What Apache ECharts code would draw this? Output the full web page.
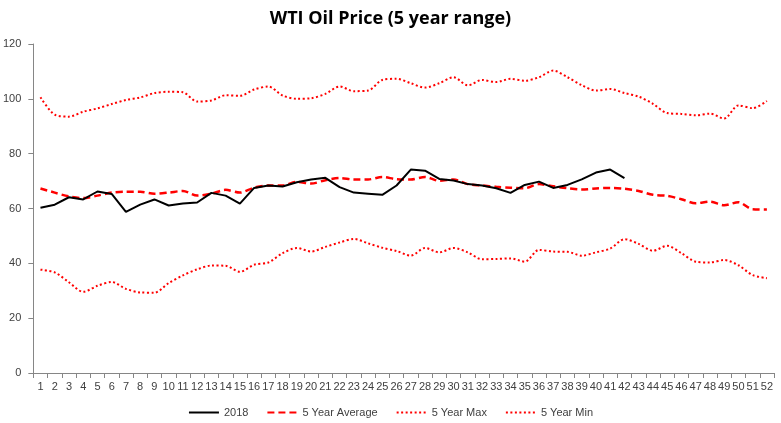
<!DOCTYPE html>
<html><head><meta charset="utf-8">
<script src="https://cdn.jsdelivr.net/npm/echarts@6/dist/echarts.min.js"></script>
<style>html,body{margin:0;padding:0;background:#fff}#c{width:781px;height:423px}</style>
</head><body><div id="c"></div>
<script>
const weeks = Array.from({length:52},(_,i)=>String(i+1));
const y2018 = [60.3,61.4,64.1,63.3,66.2,65.3,58.8,61.4,63.3,61.1,61.8,62.2,65.7,64.7,61.8,67.5,68.4,68.0,69.6,70.6,71.2,67.8,65.8,65.4,65.0,68.4,74.2,73.8,70.8,70.2,68.9,68.4,67.4,65.7,68.6,69.8,67.5,68.6,70.6,73.1,74.2,71.1];
const avg5 = [67.3,65.8,64.4,63.8,64.7,65.8,66.1,66.1,65.4,65.8,66.4,64.7,65.4,66.8,65.8,67.6,68.4,68.4,69.7,69.1,70.3,71.1,70.6,70.6,71.5,70.7,70.6,71.5,70.1,70.6,68.9,68.4,67.9,67.6,67.4,68.9,68.1,67.4,66.9,67.3,67.5,67.2,66.4,65.0,64.6,63.4,61.9,62.5,61.2,62.3,59.7,59.6];
const max5 = [100.6,94.2,93.5,95.3,96.5,98.1,99.6,100.5,102.1,102.6,102.4,99.0,99.4,101.3,101.1,103.4,104.5,101.2,100.0,100.2,101.8,104.5,102.8,103.0,106.9,107.3,105.7,104.1,105.7,107.9,104.9,106.9,106.1,107.3,106.6,107.9,110.3,107.9,105.0,103.0,103.6,102.1,100.8,98.2,94.8,94.5,94.0,94.6,92.8,97.6,96.6,99.2];
const min5 = [37.7,36.7,33.1,29.6,31.8,33.2,30.7,29.4,29.3,32.8,35.6,37.8,39.2,39.1,36.9,39.5,40.3,43.7,45.6,44.3,46.0,47.6,48.9,47.3,45.7,44.5,42.8,45.6,44.0,45.6,44.0,41.5,41.6,41.8,40.6,44.9,44.3,44.2,42.8,44.0,45.4,48.8,47.1,44.6,46.4,43.7,40.6,40.3,41.2,39.3,35.7,34.6];
const yTicks = [0,20,40,60,80,100,120];

const chart = echarts.init(document.getElementById('c'));
const font = "'Liberation Sans Narrow', 'Liberation Sans', sans-serif";
chart.setOption({
  animation:false,
  title:{text:'WTI Oil Price (5 year range)',left:'center',top:5,
    textStyle:{fontFamily:"'Open Sans', sans-serif",fontWeight:'bold',fontSize:18,color:'#000'}},
  grid:{left:33,right:7,top:44,bottom:50},
  legend:{bottom:0,left:'center',itemGap:18,itemWidth:30,itemHeight:10,
    itemStyle:{opacity:0},
    textStyle:{fontFamily:font,fontSize:11,color:'#404040'},
    data:['2018','5 Year Average','5 Year Max','5 Year Min']},
  xAxis:{type:'category',data:weeks,boundaryGap:true,
    axisLine:{lineStyle:{color:'#868686'}},
    axisTick:{show:true,interval:0,alignWithLabel:false,length:5,lineStyle:{color:'#868686'}},
    axisLabel:{interval:0,fontFamily:font,fontSize:11,color:'#404040',margin:8}},
  yAxis:{type:'value',min:yTicks[0],max:yTicks[yTicks.length-1],interval:20,
    splitLine:{show:false},
    axisLine:{show:true,lineStyle:{color:'#868686'}},
    axisTick:{show:true,inside:false,length:5,lineStyle:{color:'#868686'}},
    axisLabel:{fontFamily:font,fontSize:11,color:'#404040',margin:12}},
  series:[
    {name:'2018',type:'line',data:y2018,symbol:'none',smooth:false,z:5,
      lineStyle:{color:'#000',width:2},itemStyle:{color:'#000'}},
    {name:'5 Year Average',type:'line',data:avg5,symbol:'none',smooth:0.3,z:4,
      lineStyle:{color:'#ff0000',width:2.5,type:[7,4]},itemStyle:{color:'#ff0000'}},
    {name:'5 Year Max',type:'line',data:max5,symbol:'none',smooth:0.3,
      lineStyle:{color:'#ff0000',width:2,type:[2,2.5]},itemStyle:{color:'#ff0000'}},
    {name:'5 Year Min',type:'line',data:min5,symbol:'none',smooth:0.3,
      lineStyle:{color:'#ff0000',width:2,type:[2,2.5]},itemStyle:{color:'#ff0000'}}
  ]
});
</script></body></html>
